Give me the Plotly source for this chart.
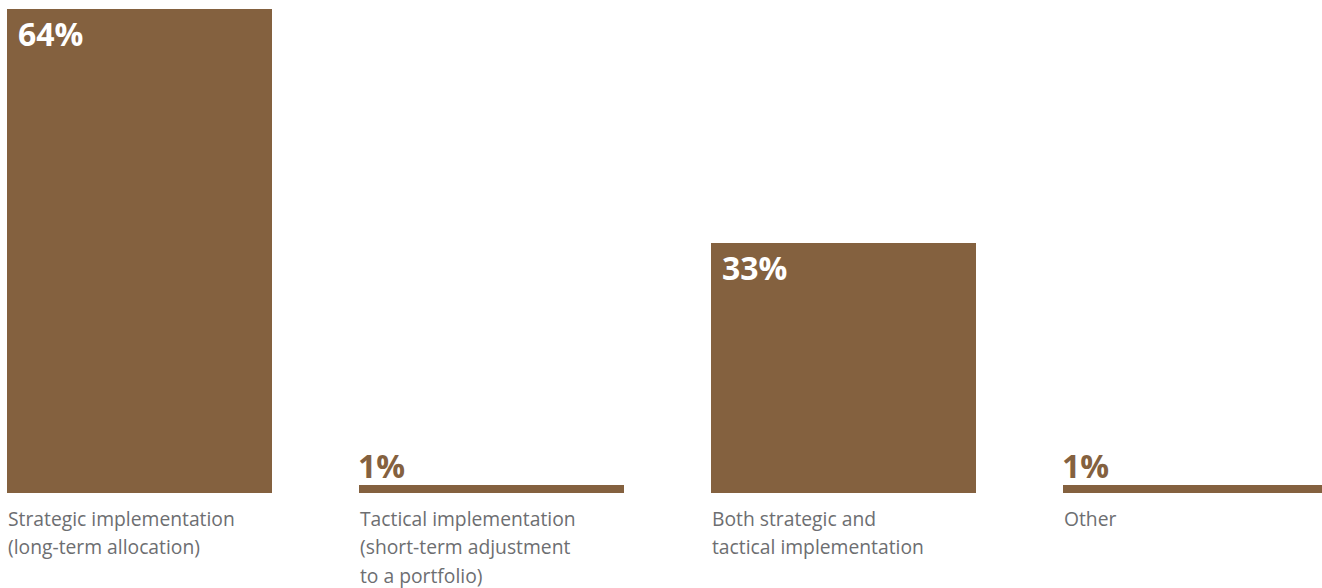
import plotly.graph_objects as go

categories = [
    "Strategic implementation<br>(long-term allocation)",
    "Tactical implementation<br>(short-term adjustment<br>to a portfolio)",
    "Both strategic and<br>tactical implementation",
    "Other",
]
values = [64, 1, 33, 1]
value_labels = ["64%", "1%", "33%", "1%"]

BROWN = "#84613F"
GREY = "#6D6E71"
FONT = "'Open Sans', sans-serif"

W, H = 1322, 588
bar_width = 0.7528
x_pos = list(range(len(categories)))

fig = go.Figure(
    go.Bar(
        x=x_pos,
        y=values,
        width=bar_width,
        marker=dict(color=BROWN, line=dict(width=0)),
        hoverinfo="skip",
    )
)

annotations = []
for i, (v, lab, cat) in enumerate(zip(values, value_labels, categories)):
    left = i - bar_width / 2
    big = v > 10
    # value label: inside the top of tall bars, above short ones
    annotations.append(dict(
        x=left, y=v, xref="x", yref="y",
        text=f"<b>{lab}</b>",
        showarrow=False,
        xanchor="left",
        yanchor="top" if big else "bottom",
        xshift=9 if big else -3,
        yshift=-1 if big else -4,
        font=dict(family=FONT, size=32, color="white" if big else BROWN),
    ))
    # category label, one annotation per line for wider line spacing
    for j, line in enumerate(cat.split("<br>")):
        annotations.append(dict(
            x=left, y=0, xref="x", yref="y",
            text=line,
            showarrow=False,
            xanchor="left", yanchor="top",
            xshift=-1, yshift=-10 - 28.3 * j,
            font=dict(family=FONT, size=19.3, color=GREY),
        ))

fig.update_layout(
    width=W, height=H,
    margin=dict(l=0, r=0, t=0, b=95, pad=0),
    paper_bgcolor="white", plot_bgcolor="white",
    showlegend=False,
    bargap=0,
    xaxis=dict(range=[-139.5 / 352, (W - 139.5) / 352], visible=False, fixedrange=True),
    yaxis=dict(range=[0, 493 / 7.5625], visible=False, fixedrange=True),
    annotations=annotations,
)

fig.write_html("out.html", config=dict(displayModeBar=False))
